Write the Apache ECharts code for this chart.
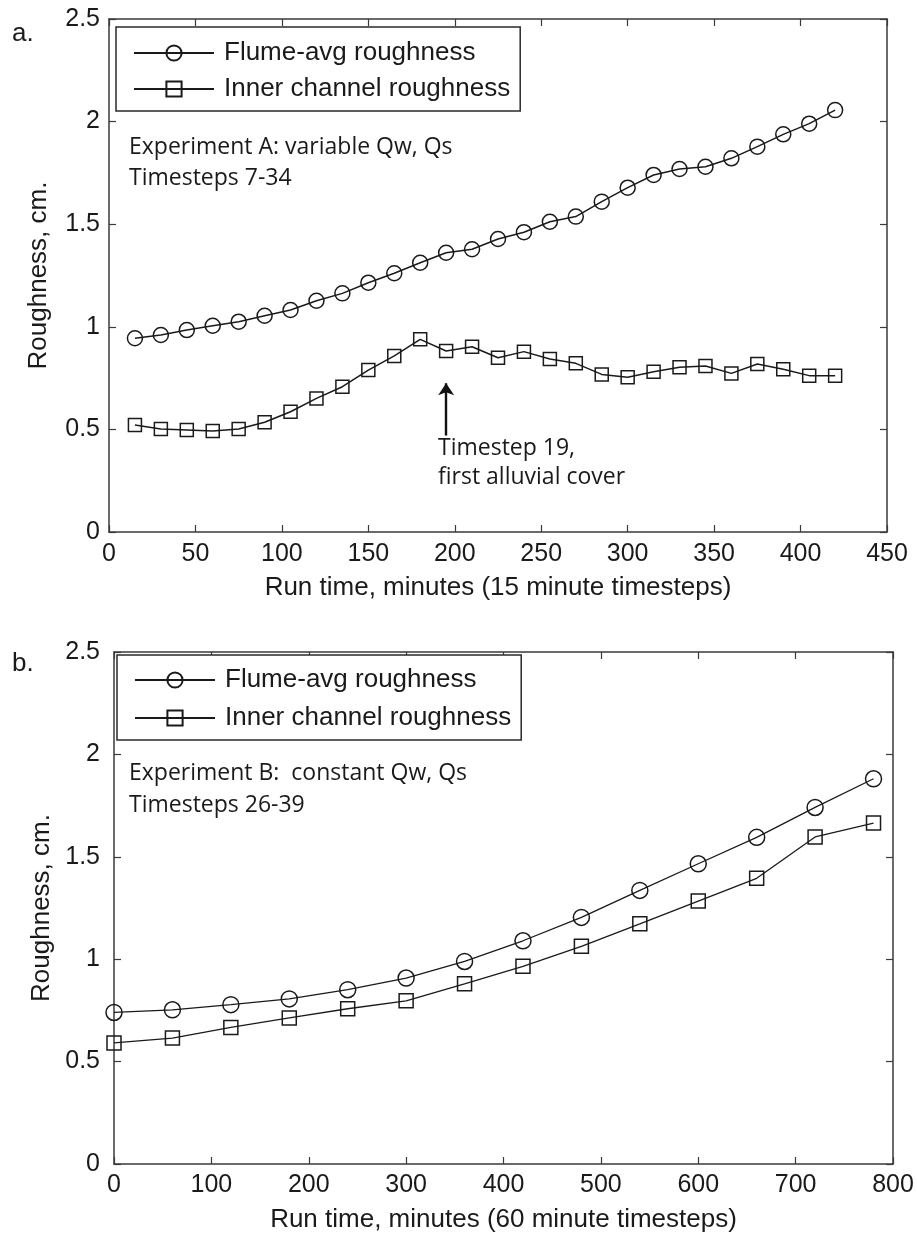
<!DOCTYPE html>
<html><head><meta charset="utf-8">
<script src="https://cdn.jsdelivr.net/npm/echarts@6.0.0/dist/echarts.min.js"></script>
<style>html,body{margin:0;padding:0;background:#fff}#c{width:917px;height:1237px}</style>
</head><body><div id="c"></div>
<script>
// ---- Panel a: Experiment A (15 minute timesteps) ----
const timeA = [15,30,45,60,75,90,105,120,135,150,165,180,195,210,225,240,255,270,285,300,315,330,345,360,375,390,405,420];
const flumeA = [0.944,0.960,0.984,1.005,1.025,1.054,1.082,1.127,1.163,1.215,1.261,1.312,1.361,1.378,1.428,1.461,1.512,1.537,1.610,1.678,1.740,1.769,1.780,1.821,1.878,1.938,1.990,2.056];
const innerA = [0.521,0.502,0.497,0.492,0.502,0.535,0.586,0.651,0.708,0.789,0.858,0.939,0.882,0.903,0.849,0.879,0.843,0.822,0.768,0.754,0.781,0.803,0.809,0.773,0.819,0.793,0.762,0.762];
const arrowA = [[195,0.47],[195,0.725]];
const xTicksA = {min:0,max:450,interval:50};

// ---- Panel b: Experiment B (60 minute timesteps) ----
const timeB = [0,60,120,180,240,300,360,420,480,540,600,660,720,780];
const flumeB = [0.740,0.753,0.778,0.806,0.851,0.908,0.989,1.090,1.204,1.336,1.466,1.595,1.741,1.881];
const innerB = [0.591,0.615,0.667,0.713,0.758,0.797,0.880,0.965,1.063,1.173,1.284,1.395,1.597,1.665];
const xTicksB = {min:0,max:800,interval:100};
const yTicks = {min:0,max:2.5,interval:0.5};

const seriesNames = ['Flume-avg roughness','Inner channel roughness'];
const xTitleA = 'Run time, minutes (15 minute timesteps)';
const xTitleB = 'Run time, minutes (60 minute timesteps)';
const yTitle = 'Roughness, cm.';
const noteA = ['Experiment A: variable Qw, Qs','Timesteps 7-34'];
const noteB = ['Experiment B:  constant Qw, Qs','Timesteps 26-39'];
const noteArrow = ['Timestep 19,','first alluvial cover'];

const INK = '#1a1a1a';
const AX = '#3a3a3a';
const ARIAL = '"Liberation Sans", Arial, sans-serif';
const MYRIAD = '"Open Sans", "Noto Sans", sans-serif';

function pairs(xs, ys){ return xs.map((x,i)=>[x, ys[i]]); }

function xAxes(t, title, gridIndex, labelMargin){
  const common = {
    type:'value', gridIndex, min:t.min, max:t.max, interval:t.interval,
    axisLine:{show:true, onZero:false, lineStyle:{color:AX, width:1.5}},
    axisTick:{show:true, inside:true, length:7, lineStyle:{color:AX, width:1.2}},
    splitLine:{show:false}
  };
  return [
    Object.assign({}, common, {position:'bottom',
      axisLabel:{show:true, color:INK, fontSize:25, fontFamily:ARIAL, margin:labelMargin},
      name:title, nameLocation:'middle', nameGap:43,
      nameTextStyle:{color:INK, fontSize:26, fontFamily:ARIAL}}),
    Object.assign({}, common, {position:'top', axisLabel:{show:false}})
  ];
}
function yAxes(gridIndex, labelMargin){
  const common = {
    type:'value', gridIndex, min:yTicks.min, max:yTicks.max, interval:yTicks.interval,
    axisLine:{show:true, onZero:false, lineStyle:{color:AX, width:1.5}},
    axisTick:{show:true, inside:true, length:7, lineStyle:{color:AX, width:1.2}},
    splitLine:{show:false}
  };
  return [
    Object.assign({}, common, {position:'left',
      axisLabel:{show:true, color:INK, fontSize:25, fontFamily:ARIAL, margin:labelMargin},
      name:yTitle, nameLocation:'middle', nameGap:57,
      nameTextStyle:{color:INK, fontSize:26, fontFamily:ARIAL}}),
    Object.assign({}, common, {position:'right', axisLabel:{show:false}})
  ];
}
function lineSeries(name, data, xi, yi, symbol, size, extra){
  return Object.assign({
    name, type:'line', xAxisIndex:xi, yAxisIndex:yi, data,
    symbol, symbolSize:size, showSymbol:true, smooth:false,
    lineStyle:{color:INK, width:1.5},
    itemStyle:{color:'rgba(255,255,255,0)', borderColor:INK, borderWidth:1.5},
    emphasis:{disabled:true}, z:3
  }, extra||{});
}
function legendAt(left, top, padding, gap){
  return {
    orient:'vertical', left, top, data:seriesNames,
    itemWidth:80, itemHeight:19, itemGap:gap,
    padding,
    borderColor:'#2a2a2a', borderWidth:1.5, backgroundColor:'#fff',
    textStyle:{color:INK, fontSize:26, fontFamily:ARIAL, lineHeight:26, padding:[0,0,0,5]},
    selectedMode:false
  };
}
function txt(x, y, text, font){
  return {type:'text', x, y, silent:true,
    style:{text, font, fill:INK, align:'left', verticalAlign:'middle'}};
}

const chart = echarts.init(document.getElementById('c'), null, {renderer:'canvas'});
chart.setOption({
  animation:false,
  backgroundColor:'#fff',
  grid:[
    {left:109, top:19, width:778, height:513, containLabel:false},
    {left:114, top:652, width:779, height:512, containLabel:false}
  ],
  xAxis:[...xAxes(xTicksA, xTitleA, 0, 10), ...xAxes(xTicksB, xTitleB, 1, 9)],
  yAxis:[...yAxes(0, 9), ...yAxes(1, 14)],
  legend:[legendAt(116,27,[13,10,9,17],10), legendAt(117,655,[12,10,9,17],12)],
  series:[
    lineSeries(seriesNames[0], pairs(timeA, flumeA), 0, 0, 'circle', 15),
    lineSeries(seriesNames[1], pairs(timeA, innerA), 0, 0, 'rect', 13, {
      markLine:{
        silent:true, symbol:['none','arrow'], symbolSize:12,
        itemStyle:{color:'#111'},
        lineStyle:{color:'#111', width:2.4, type:'solid'},
        label:{show:false},
        emphasis:{disabled:true},
        data:[[{coord:arrowA[0]},{coord:arrowA[1]}]]
      }
    }),
    lineSeries(seriesNames[0], pairs(timeB, flumeB), 2, 2, 'circle', 16, {lineStyle:{color:INK, width:1.3}}),
    lineSeries(seriesNames[1], pairs(timeB, innerB), 2, 2, 'rect', 14, {lineStyle:{color:INK, width:1.3}})
  ],
  graphic:[
    txt(12, 34, 'a.', '26px ' + ARIAL),
    txt(12, 664, 'b.', '26px ' + ARIAL),
    txt(129, 147, noteA[0], '23px ' + MYRIAD),
    txt(129, 178, noteA[1], '23px ' + MYRIAD),
    txt(129, 773, noteB[0], '23px ' + MYRIAD),
    txt(129, 805, noteB[1], '23px ' + MYRIAD),
    txt(438, 448, noteArrow[0], '23px ' + MYRIAD),
    txt(438, 477, noteArrow[1], '23px ' + MYRIAD)
  ]
});
</script>
</body></html>
